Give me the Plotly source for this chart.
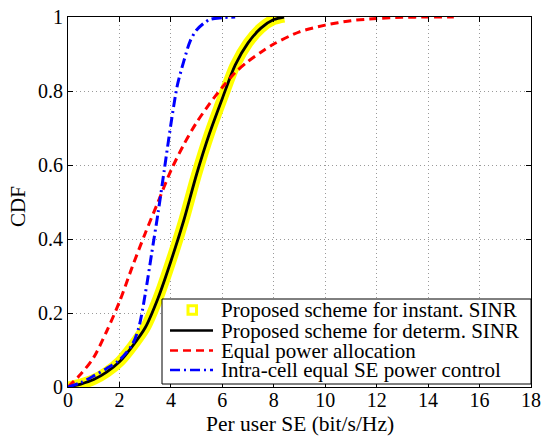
import plotly.graph_objects as go

# ---- data ----
x_instant = [0, 0.5, 1, 1.5, 2, 2.5, 3, 3.5, 4, 4.5, 5, 5.5, 6, 6.5, 7, 7.5, 8, 8.4]
cdf_instant = [0, 0.008, 0.02, 0.04, 0.068, 0.11, 0.16, 0.24, 0.34, 0.45, 0.575, 0.685, 0.78, 0.87, 0.93, 0.97, 0.993, 1.0]

x_determ = [0, 0.5, 1, 1.5, 2, 2.5, 3, 3.5, 4, 4.5, 5, 5.5, 6, 6.5, 7, 7.5, 8, 8.4]
cdf_determ = [0, 0.008, 0.02, 0.04, 0.068, 0.11, 0.16, 0.24, 0.34, 0.45, 0.575, 0.685, 0.78, 0.87, 0.93, 0.97, 0.993, 1.0]

x_equal = [0, 0.5, 1, 1.5, 2, 2.5, 3, 3.5, 4, 4.5, 5, 5.5, 6, 6.5, 7, 7.5, 8, 9, 10, 11, 12, 13, 14, 15]
cdf_equal = [0, 0.035, 0.08, 0.15, 0.23, 0.325, 0.415, 0.50, 0.585, 0.655, 0.715, 0.765, 0.81, 0.85,
             0.88, 0.905, 0.927, 0.96, 0.978, 0.99, 0.996, 0.999, 1.0, 1.0]

x_eqse = [0, 0.5, 1, 1.5, 2, 2.5, 2.75, 3, 3.25, 3.5, 3.75, 4, 4.25, 4.5, 4.75, 5, 5.5, 6, 6.5]
cdf_eqse = [0, 0.012, 0.03, 0.05, 0.073, 0.115, 0.16, 0.25, 0.36, 0.47, 0.59, 0.71, 0.815, 0.88,
            0.935, 0.965, 0.993, 0.998, 1.0]

names = ["Proposed scheme for instant. SINR", "Proposed scheme for determ. SINR",
         "Equal power allocation", "Intra-cell equal SE power control"]

x_ticks = [0, 2, 4, 6, 8, 10, 12, 14, 16, 18]
y_ticks = [0, 0.2, 0.4, 0.6, 0.8, 1]
y_ticktext = ["0", "0.2", "0.4", "0.6", "0.8", "1"]
x_title = "Per user SE (bit/s/Hz)"
y_title = "CDF"

FONT = "Liberation Serif"

fig = go.Figure()
fig.add_trace(go.Scatter(x=x_instant, y=cdf_instant, mode="lines", name=names[0],
                         line=dict(color="#FFFF00", width=11, shape="spline", smoothing=0.8),
                         showlegend=False))
fig.add_trace(go.Scatter(x=x_determ, y=cdf_determ, mode="lines", name=names[1],
                         line=dict(color="black", width=2.8, shape="spline", smoothing=0.8),
                         showlegend=False))
fig.add_trace(go.Scatter(x=x_equal, y=cdf_equal, mode="lines", name=names[2],
                         line=dict(color="#FF0000", width=3, dash="8px,5px", shape="spline", smoothing=0.8),
                         showlegend=False))
fig.add_trace(go.Scatter(x=x_eqse, y=cdf_eqse, mode="lines", name=names[3],
                         line=dict(color="#0000FF", width=3, dash="10px,4px,2px,4px", shape="spline", smoothing=0.8),
                         showlegend=False))

# ---- layout geometry (pixels) ----
L, PW = 68, 463
T, PH = 17, 370
def px(v):
    return (v - L) / PW
def py(v):
    return (T + PH - v) / PH

# ---- manual MATLAB-style legend (paper coordinates) ----
shapes = [dict(type="rect", xref="paper", yref="paper", x0=px(162), x1=1.0, y0=py(384), y1=py(299),
               line=dict(color="black", width=1), fillcolor="white", layer="above")]
rows = [310, 330.5, 350.5, 370]
shapes.append(dict(type="rect", xref="paper", yref="paper", x0=px(188), x1=px(196.5),
                   y0=py(rows[0] + 4.25), y1=py(rows[0] - 4.25),
                   line=dict(color="#FFFF00", width=3), fillcolor="white", layer="above"))
for r, col, dash in [(rows[1], "black", "solid"), (rows[2], "#FF0000", "8px,5px"),
                     (rows[3], "#0000FF", "10px,4px,2px,4px")]:
    shapes.append(dict(type="line", xref="paper", yref="paper", x0=px(170), x1=px(213),
                       y0=py(r), y1=py(r), line=dict(color=col, width=2.5, dash=dash), layer="above"))

annotations = []
for r, n in zip(rows, names):
    annotations.append(dict(xref="paper", yref="paper", x=px(219), y=py(r), text=n,
                            xanchor="left", yanchor="middle", showarrow=False,
                            font=dict(family=FONT, size=21, color="black")))

# axis titles
annotations.append(dict(xref="paper", yref="paper", x=px(299.5), y=py(437.5), text=x_title,
                        xanchor="center", yanchor="bottom", showarrow=False,
                        font=dict(family=FONT, size=21.5, color="black")))
annotations.append(dict(xref="paper", yref="paper", x=px(18), y=py(207), text=y_title,
                        textangle=-90, xanchor="center", yanchor="middle", showarrow=False,
                        font=dict(family=FONT, size=21, color="black")))

axis_common = dict(showline=True, linecolor="black", linewidth=1, mirror="allticks",
                   ticks="inside", ticklen=5, tickcolor="black", tickwidth=1,
                   showgrid=True, gridcolor="#9a9a9a", griddash="1px,3px", gridwidth=1,
                   zeroline=False, automargin=False,
                   tickfont=dict(family=FONT, size=20, color="black"))

fig.update_layout(
    width=545, height=438,
    margin=dict(l=L, r=545 - L - PW, t=T, b=438 - T - PH),
    paper_bgcolor="white", plot_bgcolor="white",
    font=dict(family=FONT, color="black"),
    xaxis=dict(range=[0, 18], tickvals=x_ticks, ticklabelstandoff=-5, **axis_common),
    yaxis=dict(range=[0, 1], tickvals=y_ticks, ticktext=y_ticktext, **axis_common),
    shapes=shapes, annotations=annotations,
)

fig.write_html("out.html", config={"displayModeBar": False},
               post_script="document.body.style.margin='0';document.body.style.overflow='hidden';")
